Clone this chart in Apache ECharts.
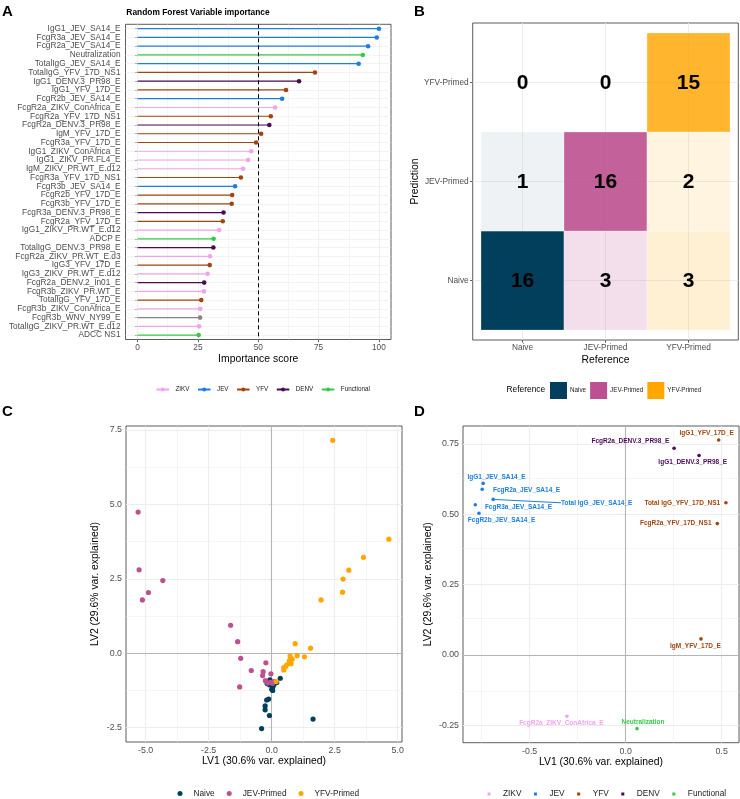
<!DOCTYPE html>
<html><head><meta charset="utf-8">
<script src="https://cdn.jsdelivr.net/npm/echarts@6/dist/echarts.min.js"></script>
<style>html,body{margin:0;padding:0;background:#fff}#c{width:740px;height:799px}</style>
</head><body><div id="c"></div>
<script>
// ---------- Panel A: Random forest variable importance ----------
const rfFeatures = ['IgG1_JEV_SA14_E','FcgR3a_JEV_SA14_E','FcgR2a_JEV_SA14_E','Neutralization','TotalIgG_JEV_SA14_E','TotalIgG_YFV_17D_NS1','IgG1_DENV.3_PR98_E','IgG1_YFV_17D_E','FcgR2b_JEV_SA14_E','FcgR2a_ZIKV_ConAfrica_E','FcgR2a_YFV_17D_NS1','FcgR2a_DENV.3_PR98_E','IgM_YFV_17D_E','FcgR3a_YFV_17D_E','IgG1_ZIKV_ConAfrica_E','IgG1_ZIKV_PR.FL4_E','IgM_ZIKV_PR.WT_E.d12','FcgR3a_YFV_17D_NS1','FcgR3b_JEV_SA14_E','FcgR2b_YFV_17D_E','FcgR3b_YFV_17D_E','FcgR3a_DENV.3_PR98_E','FcgR2a_YFV_17D_E','IgG1_ZIKV_PR.WT_E.d12','ADCP E','TotalIgG_DENV.3_PR98_E','FcgR2a_ZIKV_PR.WT_E.d3','IgG3_YFV_17D_E','IgG3_ZIKV_PR.WT_E.d12','FcgR2a_DENV.2_In01_E','FcgR3b_ZIKV_PR.WT_E','TotalIgG_YFV_17D_E','FcgR3b_ZIKV_ConAfrica_E','FcgR3b_WNV_NY99_E','TotalIgG_ZIKV_PR.WT_E.d12','ADCC NS1'];
const rfImportance = [100,99.1,95.5,93.3,91.6,73.5,66.9,61.5,59.9,57.0,55.2,54.6,51.2,49.1,47.1,45.8,43.7,42.8,40.4,39.2,39.0,35.6,35.3,33.8,31.5,31.4,30.0,29.9,29.0,27.6,27.5,26.4,26.0,25.9,25.5,25.3];
const rfGroup = ['JEV','JEV','JEV','Functional','JEV','YFV','DENV','YFV','JEV','ZIKV','YFV','DENV','YFV','YFV','ZIKV','ZIKV','ZIKV','YFV','JEV','YFV','YFV','DENV','YFV','ZIKV','Functional','DENV','ZIKV','YFV','ZIKV','DENV','ZIKV','YFV','ZIKV','WNV','ZIKV','Functional'];
const antigenGroups = ['ZIKV','JEV','YFV','DENV','Functional'];
const importanceTicks = [0,25,50,75,100];
const importanceCutoff = 50;

// ---------- Panel B: confusion matrix ----------
const cmClasses = ['Naive','JEV-Primed','YFV-Primed'];
// rows = Prediction (Naive, JEV-Primed, YFV-Primed); columns = Reference
const cmMatrix = [
  [16, 3, 3],
  [1, 16, 2],
  [0, 0, 15]
];

// ---------- Panel C: PLS-DA scores ----------
const naiveScores = [[-0.40,-2.53],[-0.09,-2.09],[-0.26,-1.90],[-0.26,-1.77],[-0.12,-1.54],[-0.20,-1.57],[1.64,-2.21],[0.34,-0.84],[0.04,-1.25],[0.04,-1.14],[-0.12,-0.95],[-0.09,-1.06],[0.20,-0.98],[-0.07,-0.89],[0.09,-1.06],[-0.18,-1.02],[0.00,-1.21]];
const jevScores = [[-5.30,4.74],[-5.26,2.80],[-5.13,1.79],[-4.89,2.04],[-4.32,2.44],[-1.63,0.94],[-1.35,0.39],[-1.23,-0.17],[-0.81,-0.58],[-1.27,-1.13],[-0.23,-0.32],[-0.34,-0.62],[-0.36,-0.75],[-0.25,-0.92],[-0.03,-0.69],[0.03,-1.01],[-0.05,-0.98],[0.08,-0.95],[-0.15,-1.00]];
const yfvScores = [[2.42,7.15],[4.65,3.83],[3.64,3.22],[3.06,2.79],[2.83,2.49],[2.81,2.05],[1.96,1.79],[0.93,0.32],[1.54,0.17],[1.30,-0.12],[1.01,-0.08],[0.73,-0.09],[0.81,-0.20],[0.77,-0.35],[0.60,-0.39],[0.48,-0.48],[0.48,-0.56],[0.55,-0.45],[0.70,-0.25],[0.18,-0.95]];
const lv1Ticks = [-5,-2.5,0,2.5,5];
const lv2Ticks = [-2.5,0,2.5,5,7.5];

// ---------- Panel D: PLS-DA loadings ----------
const loadingNames = ['IgG1_YFV_17D_E','FcgR2a_DENV.3_PR98_E','IgG1_DENV.3_PR98_E','IgG1_JEV_SA14_E','FcgR2a_JEV_SA14_E','Total IgG_JEV_SA14_E','FcgR3a_JEV_SA14_E','FcgR2b_JEV_SA14_E','Total IgG_YFV_17D_NS1','FcgR2a_YFV_17D_NS1','IgM_YFV_17D_E','FcgR2a_ZIKV_ConAfrica_E','Neutralization'];
const loadingLV1 = [0.484,0.252,0.382,-0.742,-0.747,-0.690,-0.783,-0.764,0.522,0.477,0.392,-0.306,0.059];
const loadingLV2 = [0.764,0.735,0.709,0.610,0.589,0.553,0.534,0.504,0.541,0.467,0.057,-0.218,-0.262];
const loadingGroup = ['YFV','DENV','DENV','JEV','JEV','JEV','JEV','JEV','YFV','YFV','YFV','ZIKV','Functional'];
const loadXTicks = [-0.5,0,0.5];
const loadYTicks = [-0.25,0,0.25,0.5,0.75];

// ---------- styles ----------
const FONT = "'Liberation Sans', Arial, Helvetica, sans-serif";
const groupColor = {ZIKV:'#F2A3F0', JEV:'#1C7EE0', YFV:'#A0450F', DENV:'#4B0A55', Functional:'#35C94B', WNV:'#858585'};
const classColor = {'Naive':'#023F5C','JEV-Primed':'#BC5090','YFV-Primed':'#FFA600'};
const classRGB = [[2,63,92],[188,80,144],[255,166,0]];
const tileAlpha = [[1.0,0.18,0.17],[0.065,0.9,0.12],[0,0,0.82]];
const GRID_COL = '#EBEBEB';
const TICK_COL = '#333333';
const LAB_COL = '#4D4D4D';
// label placement for loading plot (offset from point, px)
const loadLabelStyle = {
  'IgG1_YFV_17D_E': {position:'inside', offset:[-12,-6.5]},
  'FcgR2a_DENV.3_PR98_E': {position:'left', distance:3, offset:[0,-6.6]},
  'IgG1_DENV.3_PR98_E': {position:'inside', offset:[-6.3,7]},
  'IgG1_JEV_SA14_E': {position:'inside', offset:[13.4,-6.3]},
  'FcgR2a_JEV_SA14_E': {position:'inside', offset:[44.4,1.4]},
  'FcgR3a_JEV_SA14_E': {position:'inside', offset:[43.2,2]},
  'FcgR2b_JEV_SA14_E': {position:'inside', offset:[22.7,6.7]},
  'Total IgG_YFV_17D_NS1': {position:'left', distance:4, offset:[0,0]},
  'FcgR2a_YFV_17D_NS1': {position:'left', distance:4, offset:[0,0]},
  'IgM_YFV_17D_E': {position:'inside', offset:[-5.5,7.3]},
  'FcgR2a_ZIKV_ConAfrica_E': {position:'inside', offset:[-5.5,7.4]},
  'Neutralization': {position:'inside', offset:[6,-6.7]}
};
const leaderLabel = 'Total IgG_JEV_SA14_E';

function gridLines(xi, lines) {
  return {
    type:'scatter', xAxisIndex:xi, yAxisIndex:xi, data:[], z:1, silent:true,
    markLine:{silent:true, animation:false, z:1, symbol:['none','none'], label:{show:false},
      emphasis:{disabled:true},
      lineStyle:{color:GRID_COL, width:0.9, type:'solid'},
      data: lines}
  };
}
function vl(v, w, c, t){ return {xAxis:v, lineStyle:{width:w||0.9, color:c||GRID_COL, type:t||'solid'}}; }
function hl(v, w, c, t){ return {yAxis:v, lineStyle:{width:w||0.9, color:c||GRID_COL, type:t||'solid'}}; }

function valAxis(gi, min, max, ticks, fmt, name, gap, extra) {
  return Object.assign({
    gridIndex:gi, type:'value', min:min, max:max,
    axisLine:{show:false},
    axisTick:{show:true, customValues:ticks, length:2.7, lineStyle:{color:TICK_COL, width:0.8}},
    axisLabel:{customValues:ticks, formatter:fmt, fontSize:8.8, color:LAB_COL, fontFamily:FONT, margin:4},
    splitLine:{show:false},
    name:name, nameLocation:'middle', nameGap:gap,
    nameTextStyle:{fontSize:10.4, color:'#000', fontFamily:FONT}
  }, extra || {});
}
const solid = c => ({color:c, opacity:1, borderWidth:0});

const option = {
  animation:false,
  textStyle:{fontFamily:FONT},
  title:[
    {text:'A', left:2, top:4, padding:0, textStyle:{fontSize:15, fontWeight:'bold', color:'#000', fontFamily:FONT}},
    {text:'B', left:414, top:4, padding:0, textStyle:{fontSize:15, fontWeight:'bold', color:'#000', fontFamily:FONT}},
    {text:'C', left:2, top:404, padding:0, textStyle:{fontSize:15, fontWeight:'bold', color:'#000', fontFamily:FONT}},
    {text:'D', left:414, top:404, padding:0, textStyle:{fontSize:15, fontWeight:'bold', color:'#000', fontFamily:FONT}},
    {text:'Random Forest Variable importance', left:198, top:9, textAlign:'center', padding:0, textStyle:{fontSize:8.4, fontWeight:'bold', color:'#000', fontFamily:FONT}},
    {text:'Reference', left:506.5, top:385.5, padding:0, textStyle:{fontSize:8.4, fontWeight:'normal', color:'#000', fontFamily:FONT}}
  ],
  grid:[
    {left:125.5, top:24.3, width:265.5, height:315.2, show:true, borderColor:TICK_COL, borderWidth:0.8, backgroundColor:'transparent', outerBoundsMode:'none', containLabel:false},
    {left:472.7, top:23, width:265.6, height:317, show:true, borderColor:TICK_COL, borderWidth:0.8, backgroundColor:'transparent', outerBoundsMode:'none', containLabel:false},
    {left:126, top:426, width:276, height:316, show:true, borderColor:TICK_COL, borderWidth:0.8, backgroundColor:'transparent', outerBoundsMode:'none', containLabel:false},
    {left:463, top:426, width:276, height:316.7, show:true, borderColor:TICK_COL, borderWidth:0.8, backgroundColor:'transparent', outerBoundsMode:'none', containLabel:false}
  ],
  xAxis:[
    valAxis(0, -5, 105, importanceTicks, v => String(v), 'Importance score', 15, {axisLabel:{customValues:importanceTicks, fontSize:8.3, color:LAB_COL, fontFamily:FONT, margin:4}}),
    valAxis(1, 0.4, 3.6, [1,2,3], v => cmClasses[Math.round(v)-1], 'Reference', 15, {axisLabel:{customValues:[1,2,3], formatter:v => cmClasses[Math.round(v)-1], fontSize:8.3, color:LAB_COL, fontFamily:FONT, margin:4}}),
    valAxis(2, -5.78, 5.17, lv1Ticks, v => v.toFixed(1), 'LV1 (30.6% var. explained)', 14),
    valAxis(3, -0.847, 0.590, loadXTicks, v => v.toFixed(1), 'LV1 (30.6% var. explained)', 14)
  ],
  yAxis:[
    {gridIndex:0, type:'category', data:rfFeatures, inverse:true,
      axisLine:{show:false},
      axisTick:{show:true, alignWithLabel:true, length:2.7, lineStyle:{color:TICK_COL, width:0.8}},
      axisLabel:{interval:0, fontSize:8.3, color:LAB_COL, fontFamily:FONT, margin:5},
      splitLine:{show:false}},
    valAxis(1, 0.4, 3.6, [1,2,3], v => cmClasses[Math.round(v)-1], 'Prediction', 52, {axisLabel:{customValues:[1,2,3], formatter:v => cmClasses[Math.round(v)-1], fontSize:8.3, color:LAB_COL, fontFamily:FONT, margin:4}}),
    valAxis(2, -2.98, 7.63, lv2Ticks, v => v.toFixed(1), 'LV2 (29.6% var. explained)', 26),
    valAxis(3, -0.312, 0.814, loadYTicks, v => v.toFixed(2), 'LV2 (29.6% var. explained)', 30)
  ],
  legend:[
    {data:antigenGroups, left:155.5, top:386.5, padding:0, itemWidth:12.5, itemHeight:5, itemGap:7.5, selectedMode:false,
      textStyle:{fontSize:6.3, color:'#1a1a1a', fontFamily:FONT, padding:[0,0,0,1.5]}},
    {data:cmClasses.map(c => 'B:' + c), left:550, top:382, padding:0, itemWidth:17, itemHeight:17, itemGap:4, icon:'rect', selectedMode:false,
      formatter:n => n.replace(/^B:/,''), textStyle:{fontSize:6.3, color:'#1a1a1a', fontFamily:FONT, padding:[0,0,0,-2]}},
    {data:cmClasses, left:177.5, top:789.5, padding:0, itemWidth:5, itemHeight:5, itemGap:12, icon:'circle', selectedMode:false,
      textStyle:{fontSize:8.3, color:'#1a1a1a', fontFamily:FONT, padding:[0,0,0,6]}},
    {data:antigenGroups.map(g => 'D:' + g), left:487.5, top:790, padding:0, itemWidth:3, itemHeight:3, itemGap:12.5, icon:'rect', selectedMode:false,
      formatter:n => n.replace(/^D:/,''), textStyle:{fontSize:8.3, color:'#1a1a1a', fontFamily:FONT, padding:[0,0,0,7.5]}}
  ],
  series:[]
};

const S = option.series;
// ---- Panel A ----
S.push(gridLines(0, [
  ...rfFeatures.map((f,i) => hl(i, 0.6)),
  ...[12.5,37.5,62.5,87.5].map(v => vl(v, 0.5)),
  ...importanceTicks.map(v => vl(v, 0.8))
]));
S.push({type:'bar', xAxisIndex:0, yAxisIndex:0, barWidth:1.2, silent:true, z:3,
  data: rfImportance.map((v,i) => ({value:v, itemStyle:solid(groupColor[rfGroup[i]])}))});
S.push({type:'scatter', xAxisIndex:0, yAxisIndex:0, symbolSize:4.6, silent:true, z:4,
  data: rfImportance.map((v,i) => ({value:[v,i], itemStyle:solid(groupColor[rfGroup[i]])})),
  markLine:{silent:true, animation:false, z:5, symbol:['none','none'], label:{show:false},
    lineStyle:{color:'#000', width:1, type:[4,3]}, data:[{xAxis:importanceCutoff}]}});
antigenGroups.forEach(g => S.push({type:'line', name:g, xAxisIndex:0, yAxisIndex:0, data:[], color:groupColor[g],
  symbol:'circle', itemStyle:solid(groupColor[g]), lineStyle:{width:1.2}}));

// ---- Panel B ----
S.push(gridLines(1, [1,2,3].map(v => vl(v, 0.9)).concat([1,2,3].map(v => hl(v, 0.9)))));
const cmData = [];
cmMatrix.forEach((row, p) => row.forEach((n, r) => cmData.push([r+1, p+1, n])));
S.push({type:'custom', xAxisIndex:1, yAxisIndex:1, z:3, silent:true, data:cmData,
  renderItem:(params, api) => {
    const x = api.value(0), y = api.value(1), n = api.value(2);
    const p0 = api.coord([x-0.5, y+0.5]);
    const p1 = api.coord([x+0.5, y-0.5]);
    const a = tileAlpha[y-1][x-1];
    const c = classRGB[x-1];
    const children = [];
    if (a > 0) children.push({type:'rect', shape:{x:p0[0], y:p0[1], width:p1[0]-p0[0], height:p1[1]-p0[1]},
      style:{fill:`rgba(${c[0]},${c[1]},${c[2]},${a})`, stroke:'rgba(255,255,255,0.45)', lineWidth:0.6}});
    children.push({type:'text', style:{text:String(n), x:(p0[0]+p1[0])/2, y:(p0[1]+p1[1])/2 + 1,
      align:'center', verticalAlign:'middle', fontSize:21, fontWeight:'bold', fontFamily:FONT, fill:'#000'}});
    return {type:'group', children};
  }});
cmClasses.forEach(c => S.push({type:'scatter', name:'B:' + c, xAxisIndex:1, yAxisIndex:1, data:[], color:classColor[c], itemStyle:solid(classColor[c])}));

// ---- Panel C ----
S.push(gridLines(2, [
  ...[-3.75,-1.25,1.25,3.75].map(v => vl(v, 0.5)),
  ...lv1Ticks.map(v => vl(v, 0.9)),
  ...[-1.25,1.25,3.75,6.25].map(v => hl(v, 0.5)),
  ...lv2Ticks.map(v => hl(v, 0.9)),
  vl(0, 1.1, '#B5B5B5'), hl(0, 1.1, '#B5B5B5')
]));
[['Naive', naiveScores], ['JEV-Primed', jevScores], ['YFV-Primed', yfvScores]].forEach(([n, d]) =>
  S.push({type:'scatter', name:n, xAxisIndex:2, yAxisIndex:2, data:d, symbolSize:5.2, color:classColor[n], itemStyle:solid(classColor[n]), z:3, silent:true}));

// ---- Panel D ----
S.push(gridLines(3, [
  ...[-0.75,-0.25,0.25].map(v => vl(v, 0.5)),
  ...loadXTicks.map(v => vl(v, 0.9)),
  ...[-0.125,0.125,0.375,0.625].map(v => hl(v, 0.5)),
  ...loadYTicks.map(v => hl(v, 0.9)),
  vl(0, 1.1, '#B5B5B5'), hl(0, 1.1, '#B5B5B5')
]));
antigenGroups.forEach(g => {
  const data = [];
  loadingNames.forEach((n, i) => {
    if (loadingGroup[i] !== g || n === leaderLabel) return;
    const st = loadLabelStyle[n];
    data.push({value:[loadingLV1[i], loadingLV2[i]], name:n,
      label:Object.assign({show:true}, st)});
  });
  S.push({type:'scatter', name:'D:' + g, xAxisIndex:3, yAxisIndex:3, data, symbolSize:3.6, color:groupColor[g], itemStyle:solid(groupColor[g]), z:3, silent:true,
    label:{show:true, formatter:'{b}', fontSize:6.5, fontWeight:'bold', color:groupColor[g], fontFamily:FONT}});
});
{
  const i = loadingNames.indexOf(leaderLabel);
  const g = loadingGroup[i];
  S.push({type:'scatter', name:'D:' + g, xAxisIndex:3, yAxisIndex:3, symbolSize:3.6, color:groupColor[g], itemStyle:solid(groupColor[g]), z:3, silent:true,
    data:[{value:[loadingLV1[i], loadingLV2[i]], name:leaderLabel}],
    label:{show:true, position:'right', distance:2, formatter:'{b}', fontSize:6.5, fontWeight:'bold', color:groupColor[g], fontFamily:FONT},
    labelLayout:{dx:64, dy:3.4},
    labelLine:{show:true, lineStyle:{color:groupColor[g], width:1}}});
}

const chart = echarts.init(document.getElementById('c'), null, {renderer:'canvas'});
chart.setOption(option);
</script>
</body></html>
